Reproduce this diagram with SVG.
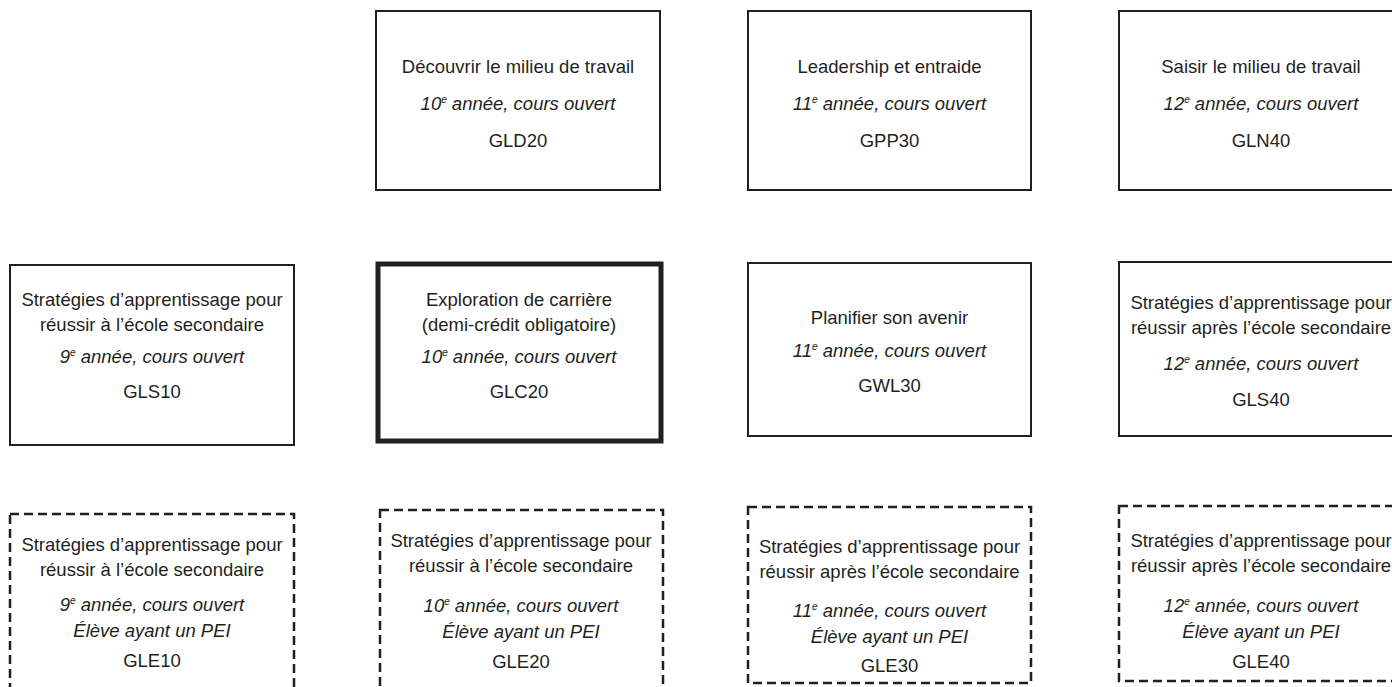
<svg xmlns="http://www.w3.org/2000/svg" width="1392" height="687" viewBox="0 0 1392 687">
<style>
text{font-family:"Liberation Sans",Arial,sans-serif;font-size:18.5px;fill:#231f20;text-anchor:middle}
.it{font-style:italic}
.sup{font-size:10px}
.box{fill:#fff;stroke:#231f20;stroke-width:2}
.thick{fill:#fff;stroke:#231f20;stroke-width:5}
.dash{fill:#fff;stroke:#231f20;stroke-width:2.5;stroke-dasharray:9 5}
</style>
<rect width="1392" height="687" fill="#fff"/>
<g id="connectors"/>
<g id="GLD20">
<rect class="box" x="376" y="11" width="284" height="179"/>
<text x="518" y="73">Découvrir le milieu de travail</text>
<text x="518" y="110" class="it">10<tspan class="sup" dy="-7">e</tspan><tspan dy="7"> année, cours ouvert</tspan></text>
<text x="518" y="147">GLD20</text>
</g>
<g id="GPP30">
<rect class="box" x="748" y="11" width="283" height="179"/>
<text x="889.5" y="73">Leadership et entraide</text>
<text x="889.5" y="110" class="it">11<tspan class="sup" dy="-7">e</tspan><tspan dy="7"> année, cours ouvert</tspan></text>
<text x="889.5" y="147">GPP30</text>
</g>
<g id="GLN40">
<rect class="box" x="1119" y="11" width="284" height="179"/>
<text x="1261" y="73">Saisir le milieu de travail</text>
<text x="1261" y="110" class="it">12<tspan class="sup" dy="-7">e</tspan><tspan dy="7"> année, cours ouvert</tspan></text>
<text x="1261" y="147">GLN40</text>
</g>
<g id="GLS10">
<rect class="box" x="10" y="265" width="284" height="180"/>
<text x="152" y="306">Stratégies d’apprentissage pour</text>
<text x="152" y="331">réussir à l’école secondaire</text>
<text x="152" y="363" class="it">9<tspan class="sup" dy="-7">e</tspan><tspan dy="7"> année, cours ouvert</tspan></text>
<text x="152" y="398">GLS10</text>
</g>
<g id="GLC20">
<rect class="thick" x="378" y="264" width="283" height="177"/>
<text x="519" y="306">Exploration de carrière</text>
<text x="519" y="331">(demi-crédit obligatoire)</text>
<text x="519" y="363" class="it">10<tspan class="sup" dy="-7">e</tspan><tspan dy="7"> année, cours ouvert</tspan></text>
<text x="519" y="398">GLC20</text>
</g>
<g id="GWL30">
<rect class="box" x="748" y="263" width="283" height="173"/>
<text x="889.5" y="324">Planifier son avenir</text>
<text x="889.5" y="357" class="it">11<tspan class="sup" dy="-7">e</tspan><tspan dy="7"> année, cours ouvert</tspan></text>
<text x="889.5" y="392">GWL30</text>
</g>
<g id="GLS40">
<rect class="box" x="1119" y="262" width="284" height="174"/>
<text x="1261" y="309">Stratégies d’apprentissage pour</text>
<text x="1261" y="334">réussir après l’école secondaire</text>
<text x="1261" y="370" class="it">12<tspan class="sup" dy="-7">e</tspan><tspan dy="7"> année, cours ouvert</tspan></text>
<text x="1261" y="406">GLS40</text>
</g>
<g id="GLE10">
<rect class="dash" x="10" y="514" width="284" height="190"/>
<text x="152" y="551">Stratégies d’apprentissage pour</text>
<text x="152" y="576">réussir à l’école secondaire</text>
<text x="152" y="611" class="it">9<tspan class="sup" dy="-7">e</tspan><tspan dy="7"> année, cours ouvert</tspan></text>
<text x="152" y="637" class="it">Élève ayant un PEI</text>
<text x="152" y="667">GLE10</text>
</g>
<g id="GLE20">
<rect class="dash" x="380" y="510" width="283" height="190"/>
<text x="521" y="547">Stratégies d’apprentissage pour</text>
<text x="521" y="572">réussir à l’école secondaire</text>
<text x="521" y="612" class="it">10<tspan class="sup" dy="-7">e</tspan><tspan dy="7"> année, cours ouvert</tspan></text>
<text x="521" y="638" class="it">Élève ayant un PEI</text>
<text x="521" y="668">GLE20</text>
</g>
<g id="GLE30">
<rect class="dash" x="748" y="507" width="283" height="176"/>
<text x="889.5" y="553">Stratégies d’apprentissage pour</text>
<text x="889.5" y="578">réussir après l’école secondaire</text>
<text x="889.5" y="617" class="it">11<tspan class="sup" dy="-7">e</tspan><tspan dy="7"> année, cours ouvert</tspan></text>
<text x="889.5" y="643" class="it">Élève ayant un PEI</text>
<text x="889.5" y="672">GLE30</text>
</g>
<g id="GLE40">
<rect class="dash" x="1119" y="506" width="284" height="175"/>
<text x="1261" y="547">Stratégies d’apprentissage pour</text>
<text x="1261" y="572">réussir après l’école secondaire</text>
<text x="1261" y="612" class="it">12<tspan class="sup" dy="-7">e</tspan><tspan dy="7"> année, cours ouvert</tspan></text>
<text x="1261" y="638" class="it">Élève ayant un PEI</text>
<text x="1261" y="668">GLE40</text>
</g>
</svg>
